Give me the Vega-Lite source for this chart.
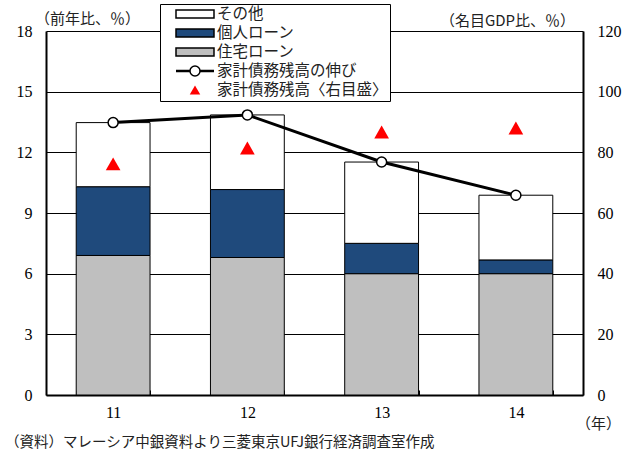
{
  "$schema": "https://vega.github.io/schema/vega-lite/v6.json",
  "width": 537,
  "height": 364,
  "autosize": {"type": "none"},
  "padding": {"left": 46, "top": 31, "right": 50, "bottom": 58},
  "background": "white",
  "config": {
    "view": {"stroke": null},
    "axis": {
      "labelFont": "Liberation Serif",
      "labelFontSize": 16,
      "labelColor": "black",
      "titleFont": "Noto Sans CJK JP",
      "titleFontSize": 15,
      "titleFontWeight": "normal",
      "titleColor": "#222222",
      "domainColor": "black",
      "domainWidth": 2
    },
    "legend": {
      "title": null,
      "orient": "none",
      "legendX": 114,
      "legendY": -27,
      "fillColor": "white",
      "strokeColor": "black",
      "padding": 2,
      "rowPadding": 2,
      "symbolSize": 196,
      "symbolOffset": 25,
      "labelOffset": 14,
      "labelFont": "Noto Sans CJK JP",
      "labelFontSize": 15.5,
      "labelColor": "#222222",
      "labelLimit": 400,
      "symbolStrokeWidth": 1.5,
      "symbolOpacity": 1
    }
  },
  "datasets": {
    "loans": [
      {"year": "11", "type": "住宅ローン", "value": 6.9},
      {"year": "11", "type": "個人ローン", "value": 3.4},
      {"year": "11", "type": "その他", "value": 3.17},
      {"year": "12", "type": "住宅ローン", "value": 6.8},
      {"year": "12", "type": "個人ローン", "value": 3.36},
      {"year": "12", "type": "その他", "value": 3.69},
      {"year": "13", "type": "住宅ローン", "value": 6.0},
      {"year": "13", "type": "個人ローン", "value": 1.5},
      {"year": "13", "type": "その他", "value": 4.02},
      {"year": "14", "type": "住宅ローン", "value": 6.0},
      {"year": "14", "type": "個人ローン", "value": 0.68},
      {"year": "14", "type": "その他", "value": 3.2}
    ],
    "debt": [
      {"year": "11", "growth": 13.47, "ratio": 76.2},
      {"year": "12", "growth": 13.85, "ratio": 81.4},
      {"year": "13", "growth": 11.52, "ratio": 86.7},
      {"year": "14", "growth": 9.88, "ratio": 88.0}
    ]
  },
  "title": {
    "text": "（資料）マレーシア中銀資料より三菱東京UFJ銀行経済調査室作成",
    "orient": "bottom",
    "anchor": "start",
    "frame": "group",
    "font": "Noto Sans CJK JP",
    "fontSize": 14.5,
    "fontWeight": "normal",
    "color": "#222222",
    "offset": 5,
    "dx": -41
  },
  "encoding": {
    "x": {
      "field": "year",
      "type": "nominal",
      "scale": {"paddingInner": 0.45, "paddingOuter": 0.225},
      "axis": {
        "title": "（年）",
        "titleAngle": 0,
        "titleX": 552,
        "titleY": 28,
        "titleAlign": "center",
        "titleBaseline": "middle",
        "labelAngle": 0,
        "labelPadding": 14,
        "tickBand": "extent",
        "tickSize": -5,
        "tickColor": "black",
        "tickWidth": 1
      }
    }
  },
  "layer": [
    {
      "layer": [
        {
          "data": {"name": "loans"},
          "transform": [
            {"calculate": "indexof(['住宅ローン', '個人ローン', 'その他'], datum.type)", "as": "stackRank"}
          ],
          "mark": {"type": "bar", "stroke": "black", "strokeWidth": 1},
          "encoding": {
            "y": {
              "field": "value",
              "type": "quantitative",
              "stack": "zero",
              "scale": {"domain": [0, 18], "nice": false},
              "axis": {
                "title": "（前年比、％）",
                "titleAngle": 0,
                "titleX": 41,
                "titleY": -13,
                "titleAlign": "center",
                "titleBaseline": "middle",
                "values": [0, 3, 6, 9, 12, 15, 18],
                "ticks": false,
                "grid": true,
                "gridColor": "black",
                "gridOpacity": 1,
                "gridWidth": 1,
                "labelPadding": 14
              }
            },
            "order": {"field": "stackRank", "type": "quantitative", "sort": "ascending"},
            "color": {
              "field": "type",
              "type": "nominal",
              "scale": {
                "domain": ["その他", "個人ローン", "住宅ローン", "家計債務残高の伸び", "家計債務残高〈右目盛〉"],
                "range": ["#ffffff", "#1f4a7c", "#bfbfbf", "#ffffff", "#ff0000"]
              },
              "legend": {"title": null, "labelExpr": "datum.label + '\u3000'"}
            }
          }
        },
        {
          "data": {"name": "debt"},
          "mark": {"type": "line", "color": "black", "strokeWidth": 3},
          "encoding": {
            "y": {
              "field": "growth",
              "type": "quantitative",
              "scale": {"domain": [0, 18], "nice": false}
            }
          }
        },
        {
          "data": {"name": "debt"},
          "mark": {"type": "point", "shape": "circle", "filled": true, "fill": "white", "stroke": "black", "strokeWidth": 1.5, "size": 100, "opacity": 1},
          "encoding": {
            "y": {
              "field": "growth",
              "type": "quantitative",
              "scale": {"domain": [0, 18], "nice": false}
            }
          }
        }
      ]
    },
    {
      "data": {"name": "debt"},
      "mark": {"type": "point", "filled": true, "size": 384, "opacity": 1},
      "encoding": {
        "y": {
          "field": "ratio",
          "type": "quantitative",
          "scale": {"domain": [0, 120], "nice": false},
          "axis": {
            "orient": "right",
            "title": "（名目GDP比、％）",
            "titleAngle": 0,
            "titleX": -76,
            "titleY": -11,
            "titleAlign": "center",
            "titleBaseline": "middle",
            "values": [0, 20, 40, 60, 80, 100, 120],
            "ticks": false,
            "grid": false,
            "labelPadding": 14
          }
        },
        "color": {
          "datum": "家計債務残高〈右目盛〉",
          "type": "nominal",
          "legend": {"title": null, "labelExpr": "datum.label + '\u3000'"}
        },
        "shape": {
          "datum": "家計債務残高〈右目盛〉",
          "type": "nominal",
          "scale": {
            "domain": ["その他", "個人ローン", "住宅ローン", "家計債務残高の伸び", "家計債務残高〈右目盛〉"],
            "range": [
              "M-2.714,-0.571H2.714V0.571H-2.714Z",
              "M-2.714,-0.571H2.714V0.571H-2.714Z",
              "M-2.714,-0.571H2.714V0.571H-2.714Z",
              "M-2.714,-0.07H-0.714M-2.714,0.07H-0.714M0.714,-0.07H2.714M0.714,0.07H2.714M0.714,0A0.714,0.714,0,1,1,-0.714,0A0.714,0.714,0,1,1,0.714,0Z",
              "M0,-0.66L0.75,0.66L-0.75,0.66Z"
            ]
          },
          "legend": {"title": null, "labelExpr": "datum.label + '\u3000'"}
        },
        "stroke": {
          "datum": "家計債務残高〈右目盛〉",
          "type": "nominal",
          "scale": {
            "domain": ["その他", "個人ローン", "住宅ローン", "家計債務残高の伸び", "家計債務残高〈右目盛〉"],
            "range": ["#000000", "#000000", "#000000", "#000000", "transparent"]
          },
          "legend": {"title": null, "labelExpr": "datum.label + '\u3000'"}
        }
      }
    }
  ],
  "resolve": {"scale": {"y": "independent"}}
}
